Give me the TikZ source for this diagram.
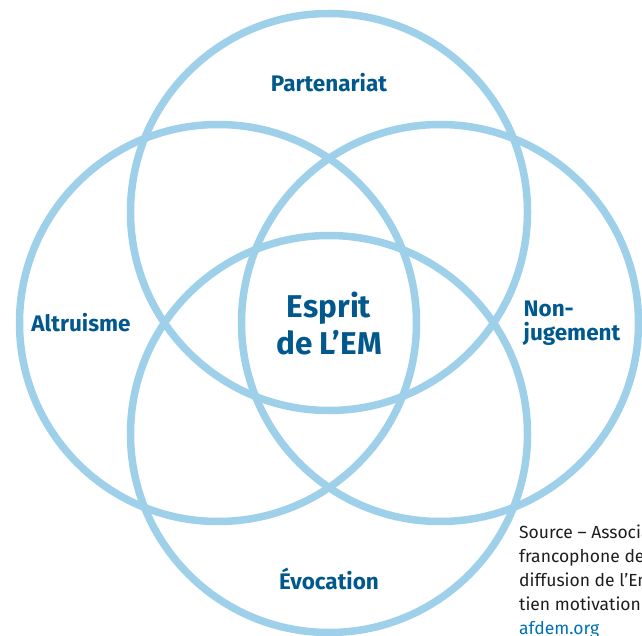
\documentclass[tikz,border=0pt]{standalone}
\usepackage{fontspec}
\setmainfont{Fira Sans}
\usetikzlibrary{positioning}
\definecolor{ringblue}{RGB}{158,208,234}
\definecolor{labelblue}{RGB}{0,88,140}
\definecolor{linkblue}{RGB}{0,112,180}
\definecolor{sourcegray}{RGB}{30,30,30}

\begin{document}
\begin{tikzpicture}[%
    x=1pt,y=-1pt,node distance=111pt and 111pt,on grid,
    ring/.style={%
      circle,draw=ringblue,line width=7.5pt,minimum size=397pt,inner sep=0pt},
    quality/.style={%
      font=\fontsize{22.5}{24}\selectfont\bfseries,text=labelblue,inner sep=0pt},
    centre/.style={%
      font=\fontsize{31.5}{37}\selectfont\bfseries,text=labelblue,align=center,inner sep=0pt},
    source/.style={%
      font=\fontsize{17.5}{24}\selectfont,text=sourcegray,align=left,inner sep=0pt}
  ]
    \useasboundingbox (0,0) rectangle (642,636);
    \clip (0,0) rectangle (642,636);
    % the four rings
    \node[ring] (top)                          at (329,212) {};
    \node[ring] (left)   [below left=of top]                {};
    \node[ring] (bottom) [below right=of left]              {};
    \node[ring] (right)  [above right=of bottom]            {};
    % labels
    \node[quality] (partenariat) [above=129pt of top]      {Partenariat};
    \node[quality] (altruisme)   [left=137pt of left]      {Altruisme};
    \node[quality,align=left] (nonjugement) [right=132pt of right] {Non-\\jugement};
    \node[quality] (evocation)   [below=145pt of bottom]   {Évocation};
    \node[centre]  (esprit)      [right=111pt of left]     {Esprit\\de L’EM};
    % source note, cut by the page edge
    \node[source,anchor=north west] (note) at (519,525)
      {Source – Association\\francophone de\\diffusion de l’Entre-\\tien motivationnel\\\textcolor{linkblue}{afdem.org}};
  \end{tikzpicture}
\end{document}
